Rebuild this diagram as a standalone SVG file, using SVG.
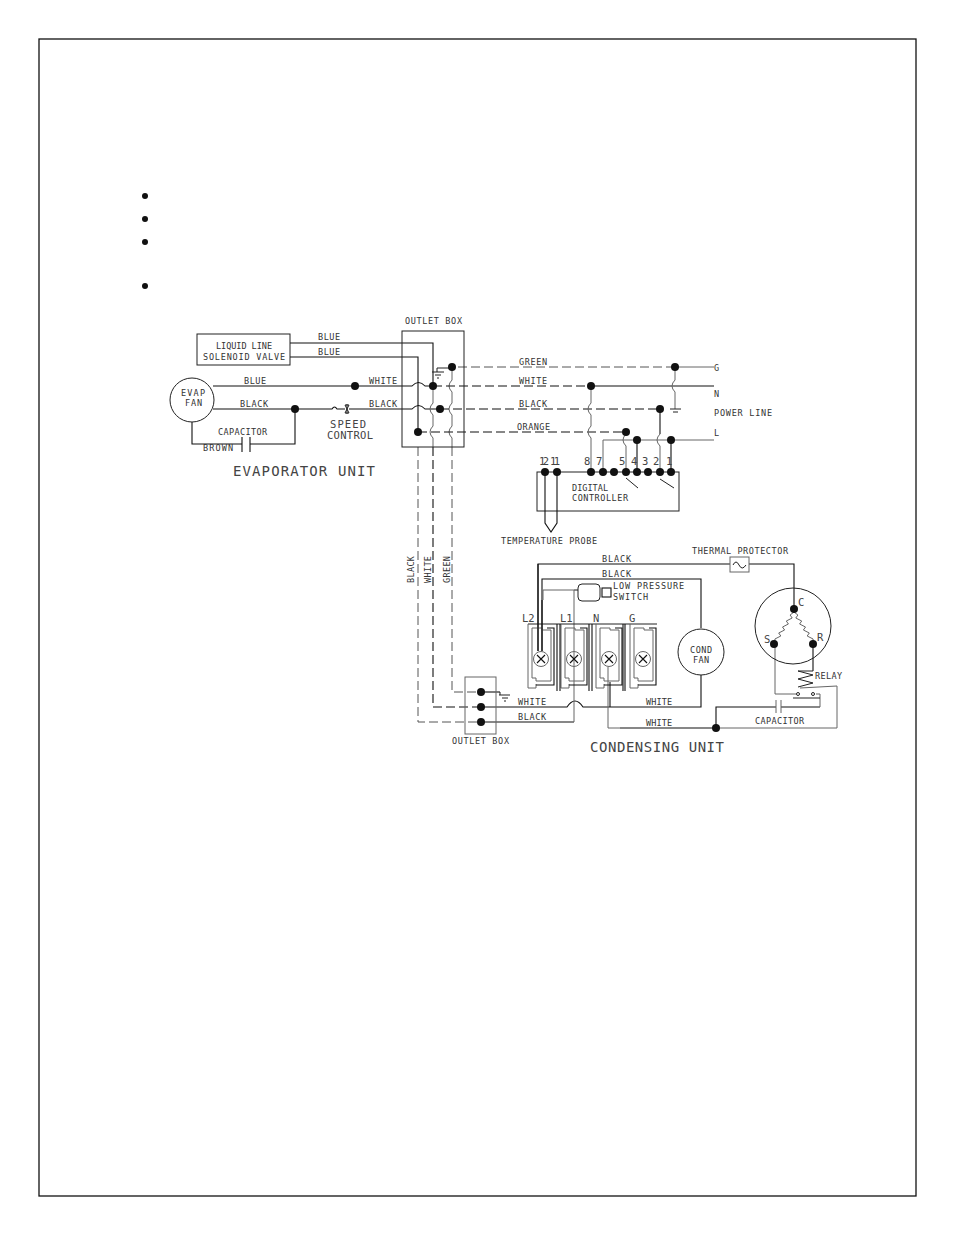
<svg xmlns="http://www.w3.org/2000/svg" xmlns:xlink="http://www.w3.org/1999/xlink" width="954" height="1235" viewBox="0 0 954 1235">
<style>
.w{fill:none;stroke:#111;stroke-width:1.1}
.g{fill:none;stroke:#666;stroke-width:1}
.d{fill:none;stroke:#111;stroke-width:1.1;stroke-dasharray:9 4}
.dg{fill:none;stroke:#555;stroke-width:1;stroke-dasharray:9 4}
.b{fill:none;stroke:#222;stroke-width:1}
.dot{fill:#111;stroke:none}
text{font-family:"DejaVu Sans Mono","Liberation Mono",monospace;fill:#333;font-size:8.500px}
.l{font-size:14px;fill:#444}
.m{font-size:10.500px;fill:#444}
</style>
<defs>
<g id="term">
<path class="g" d="M0 0V64H8V60"/>
<path class="w" d="M8 61H26V4H19"/>
<path class="g" d="M4 4V54H8V57H23V6H14V4H4"/>
<circle class="g" cx="13" cy="35" r="7.500"/>
<path class="w" d="M9 31L17 39M17 31L9 39"/>
</g>
</defs>
<rect width="954" height="1235" fill="#fff"/>
<rect id="page-frame" x="39" y="39" width="877" height="1157" fill="none" stroke="#111" stroke-width="1.300"/>
<g id="bullets">
<circle class="dot" cx="145" cy="196" r="3"/><circle class="dot" cx="145" cy="219" r="3"/><circle class="dot" cx="145" cy="242" r="3"/><circle class="dot" cx="145" cy="286" r="3"/>
</g>
<g id="connectors">
<path class="w" d="M290 343H433V386"/>
<path class="w" d="M290 357H418V432"/>
<path class="w" d="M213 386H412q6.500 -7 13 0H433"/>
<path class="w" d="M213 409H332q2.500 -4 5 0H345M349 409H412q6.500 -7 13 0H440"/>
<path class="w" d="M192 422V444H242M250 444H295V409"/>
<path class="w" d="M242 437V452M250 437V452"/>
<path class="g" d="M433 386V403q-6 6 0 12V426q-6 6 0 12V447"/>
<path class="g" d="M452 367V380q-6 6 0 12V403q-6 6 0 12V426q-6 6 0 12V447"/>
<path class="b" d="M452 368H437V372M432 372H444M435 375H441M437 378H439"/>
<path class="dg" d="M458 367H675"/><path class="g" d="M675 367H714"/>
<path class="d" d="M433 386H591"/><path class="w" d="M591 386H714"/>
<path class="d" d="M440 409H660"/>
<path class="d" d="M418 432H626"/>
<path class="g" d="M603 472V440H714"/>
<path class="g" d="M591 386V403q-6 6 0 12V426q-6 6 0 12V472"/>
<path class="g" d="M626 432V434q-6 6 0 12V472"/>
<path class="w" d="M637 440V472M671 440V472"/>
<path class="w" d="M660 409V434"/><path class="g" d="M660 434q-6 6 0 12V472"/>
<path class="g" d="M675 367V380q-6 6 0 12V409"/>
<path class="b" d="M670 409H681M673 412H678"/>
<path class="dg" d="M418 447V722H481"/>
<path class="d" d="M433 447V707H481"/>
<path class="dg" d="M452 447V692H481"/>
<path class="w" d="M481 692H500"/>
<path class="b" d="M500 692V695M499 695H510M502 698H508M504 701H506"/>
<path class="w" d="M481 707H567q8 -12 16 0H701V675"/>
<path class="w" d="M481 722H574"/>
<path class="g" d="M574 722V590H578"/>
<path class="w" d="M538 651V564H730"/>
<path class="w" d="M749 564H794V609"/>
<path class="w" d="M542 651V579H701V628"/>
<path class="g" d="M578 590H543V600"/>
<path class="w" d="M610 682V707"/>
<path class="g" d="M608 667V728H620"/>
<path class="w" d="M620 728H716"/>
<path class="w" d="M716 728V707H776M781 707H820"/>
<path class="g" d="M776 700V713M781 700V713"/>
<path class="g" d="M716 728H837V686L800 688"/>
<path class="g" d="M820 707V694H816M775 644V694H796"/>
<path class="w" d="M813 644V671"/>
<path class="b" d="M793 698H820"/>
<path class="g" d="M794 612L790.100 615 792.200 618 786.300 621 788.400 624 782.500 627 784.600 630 778.700 633 780.800 636 774.900 639 775 642"/>
<path class="g" d="M794 612L797.900 615 795.800 618 801.700 621 799.600 624 805.500 627 803.400 630 809.300 633 807.200 636 813.100 639 813 642"/>
<path class="b" d="M813 671H798l15 4-15 4 15 4-15 4"/>
</g>
<g id="solenoid-valve"><rect class="b" x="197" y="334" width="93" height="31"/>
<text x="216" y="349" textLength="56">LIQUID LINE</text><text x="203" y="360" textLength="82">SOLENOID VALVE</text></g>
<g id="evap-fan"><circle class="b" cx="192" cy="400" r="22"/>
<text x="181" y="396" textLength="24">EVAP</text><text x="185" y="406" textLength="17">FAN</text></g>
<g id="speed-control"><path class="b" d="M345 405L349 413M349 405L345 413M345 405H349M345 413H349M347 404V414"/>
<text class="m" x="330" y="428" textLength="36">SPEED</text><text class="m" x="327" y="439" textLength="46">CONTROL</text></g>
<g id="outlet-box-1"><rect class="b" x="402" y="331" width="62" height="116"/><text x="405" y="324" textLength="57">OUTLET BOX</text></g>
<g id="outlet-box-2"><rect class="g" x="465" y="677" width="31" height="57"/><text x="452" y="744" textLength="57">OUTLET BOX</text></g>
<g id="controller"><rect class="b" x="537" y="472" width="142" height="39"/>
<path class="w" d="M545 472V523L551 532L557 523V472"/>
<path class="b" d="M626 478L638 488M660 479L674 488"/>
<text x="572" y="491" textLength="36">DIGITAL</text><text x="572" y="501" textLength="56">CONTROLLER</text>
<text class="m" x="539" y="465" textLength="10">12</text><text class="m" x="550" y="465" textLength="10">11</text><text class="m" x="584" y="465">8</text><text class="m" x="596" y="465">7</text><text class="m" x="619" y="465">5</text><text class="m" x="631" y="465">4</text><text class="m" x="642" y="465">3</text><text class="m" x="653" y="465">2</text><text class="m" x="666" y="465">1</text>
<text x="501" y="544" textLength="96">TEMPERATURE PROBE</text></g>
<g id="terminals"><path class="b" d="M528 624H657"/>
<use xlink:href="#term" x="528" y="624"/><use xlink:href="#term" x="561" y="624"/><use xlink:href="#term" x="596" y="624"/><use xlink:href="#term" x="630" y="624"/>
<path class="w" d="M557 624V691M560 624V691M589 624V691M592 624V691M623 624V691M625 624V691"/>
<path class="w" d="M538 564V651M542 600V651"/>
<text class="m" x="522" y="622">L2</text><text class="m" x="560" y="622">L1</text><text class="m" x="593" y="622">N</text><text class="m" x="629" y="622">G</text></g>
<g id="low-pressure-switch"><rect class="b" x="578" y="584" width="22" height="17" rx="4"/><rect class="w" x="602" y="588" width="9" height="9"/>
<text x="613" y="589" textLength="71">LOW PRESSURE</text><text x="613" y="600" textLength="35">SWITCH</text></g>
<g id="cond-fan"><circle class="b" cx="701" cy="652" r="23"/><text x="690" y="653" textLength="22">COND</text><text x="693" y="663" textLength="16">FAN</text></g>
<g id="thermal-protector"><rect class="g" x="730" y="557" width="19" height="15"/><path class="b" d="M733 565q3 -6 6 0t7 0"/><text x="692" y="554" textLength="96">THERMAL PROTECTOR</text></g>
<g id="compressor"><circle class="b" cx="793" cy="626" r="38"/>
<text class="m" x="798" y="606">C</text><text class="m" x="764" y="643">S</text><text class="m" x="817" y="641">R</text></g>
<g id="relay"><circle class="b" cx="798" cy="694" r="1.500"/><circle class="b" cx="813" cy="694" r="1.500"/><text x="815" y="679" textLength="27">RELAY</text></g>
<g id="junctions">
<circle class="dot" cx="355" cy="386" r="4"/><circle class="dot" cx="295" cy="409" r="4"/><circle class="dot" cx="433" cy="386" r="4"/><circle class="dot" cx="440" cy="409" r="4"/><circle class="dot" cx="418" cy="432" r="4"/><circle class="dot" cx="452" cy="367" r="4"/>
<circle class="dot" cx="675" cy="367" r="4"/><circle class="dot" cx="591" cy="386" r="4"/><circle class="dot" cx="660" cy="409" r="4"/><circle class="dot" cx="626" cy="432" r="4"/><circle class="dot" cx="637" cy="440" r="4"/><circle class="dot" cx="671" cy="440" r="4"/>
<circle class="dot" cx="545" cy="472" r="4"/><circle class="dot" cx="557" cy="472" r="4"/><circle class="dot" cx="591" cy="472" r="4"/><circle class="dot" cx="603" cy="472" r="4"/><circle class="dot" cx="614" cy="472" r="4"/><circle class="dot" cx="626" cy="472" r="4"/><circle class="dot" cx="637" cy="472" r="4"/><circle class="dot" cx="648" cy="472" r="4"/><circle class="dot" cx="660" cy="472" r="4"/><circle class="dot" cx="671" cy="472" r="4"/>
<circle class="dot" cx="481" cy="692" r="4"/><circle class="dot" cx="481" cy="707" r="4"/><circle class="dot" cx="481" cy="722" r="4"/>
<circle class="dot" cx="794" cy="609" r="4"/><circle class="dot" cx="774" cy="644" r="4"/><circle class="dot" cx="813" cy="644" r="4"/><circle class="dot" cx="716" cy="728" r="4"/>
</g>
<g id="labels">
<text x="318" y="340" textLength="22">BLUE</text><text x="318" y="355" textLength="22">BLUE</text><text x="244" y="384" textLength="22">BLUE</text><text x="369" y="384" textLength="28">WHITE</text><text x="240" y="407" textLength="28">BLACK</text><text x="369" y="407" textLength="28">BLACK</text>
<text x="218" y="435" textLength="49">CAPACITOR</text><text x="203" y="451" textLength="30">BROWN</text>
<text class="l" x="233" y="476" textLength="142">EVAPORATOR UNIT</text>
<text x="519" y="365" textLength="28">GREEN</text><text x="519" y="384" textLength="28">WHITE</text><text x="519" y="407" textLength="28">BLACK</text><text x="517" y="430" textLength="33">ORANGE</text>
<text x="714" y="371">G</text><text x="714" y="397">N</text><text x="714" y="416" textLength="58">POWER LINE</text><text x="714" y="436">L</text>
<text transform="translate(414 583) rotate(-90)" textLength="27">BLACK</text><text transform="translate(431 583) rotate(-90)" textLength="27">WHITE</text><text transform="translate(450 583) rotate(-90)" textLength="27">GREEN</text>
<text x="602" y="562" textLength="29">BLACK</text><text x="602" y="577" textLength="29">BLACK</text>
<text x="518" y="705" textLength="28">WHITE</text><text x="518" y="720" textLength="28">BLACK</text><text x="646" y="705" textLength="26">WHITE</text><text x="646" y="726" textLength="26">WHITE</text>
<text x="755" y="724" textLength="49">CAPACITOR</text>
<text class="l" x="590" y="752" textLength="134">CONDENSING UNIT</text>
</g>
</svg>
